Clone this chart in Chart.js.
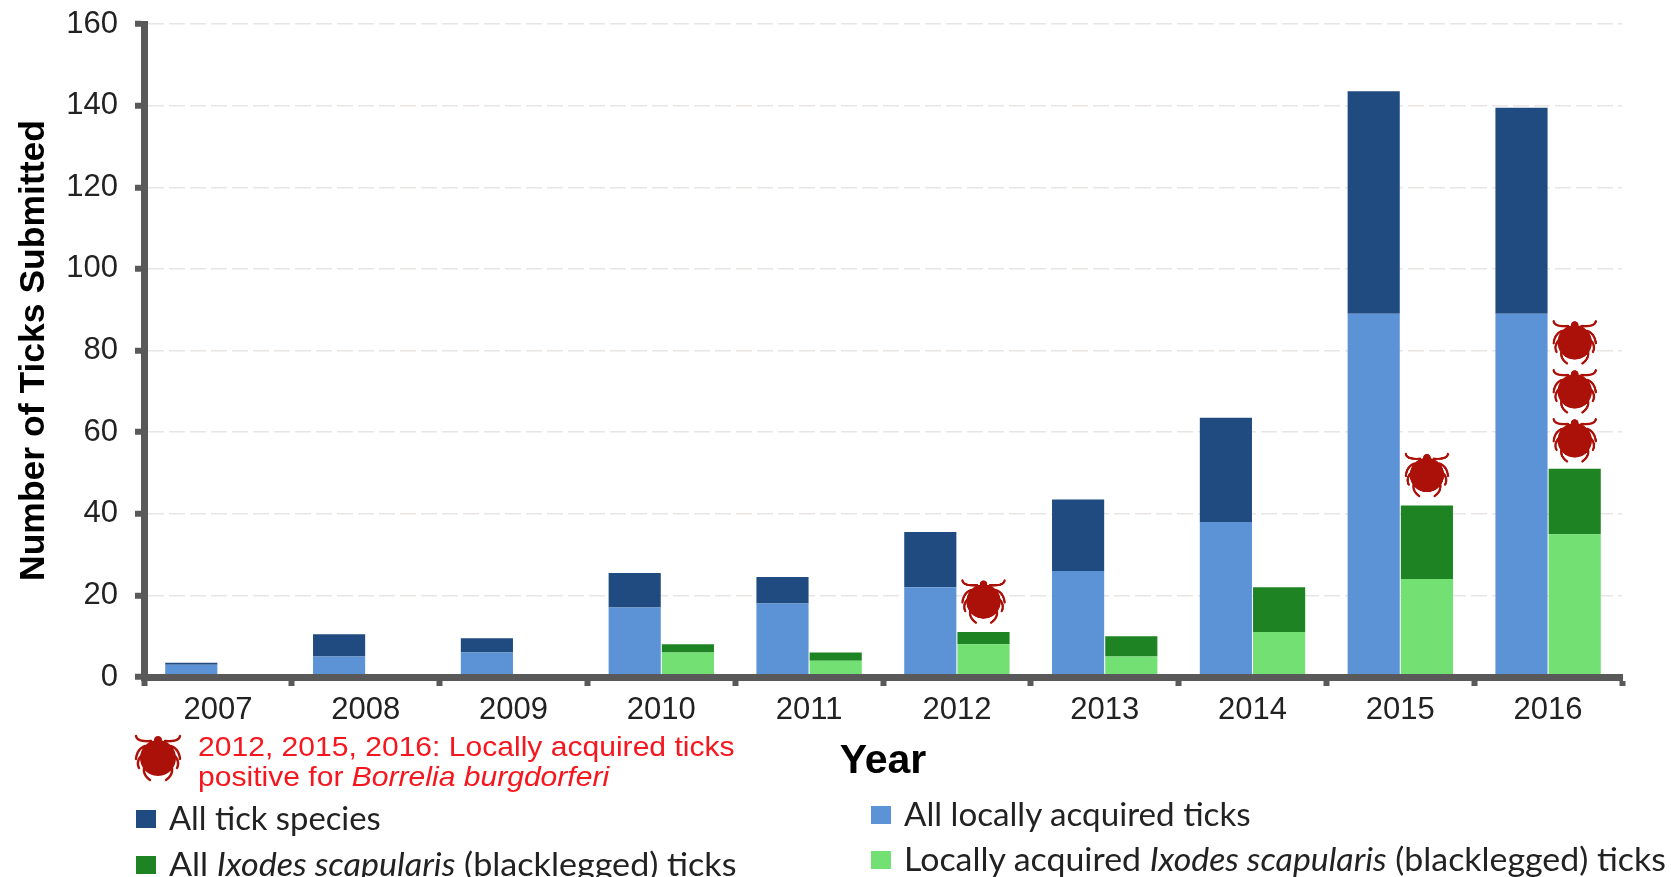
<!DOCTYPE html>
<html>
<head>
<meta charset="utf-8">
<title>Ticks submitted</title>
<script src="https://cdn.jsdelivr.net/npm/chart.js@4"></script>
<style>
  body { margin: 0; background: #fff; overflow: hidden; }
  #wrap { position: relative; width: 1671px; height: 877px; overflow: hidden; }
  .note { position: absolute; left: 198px; color: #f5161e; font: 28.5px "Liberation Sans", Arial, sans-serif; white-space: nowrap; line-height: 30px; transform: scaleX(1.055); transform-origin: left center; }
  .key { position: absolute; color: #222; font: 32px Lato, sans-serif; white-space: nowrap; line-height: 34px; transform-origin: left center; }
  .swatch { position: absolute; width: 20px; height: 18px; }
  #legendIcon { position: absolute; left: 134px; top: 734px; width: 48px; height: 48px; }
</style>
</head>
<body>
<div id="wrap">
  <canvas id="chart" width="1671" height="877"></canvas>
  <canvas id="legendIcon" width="96" height="96"></canvas>
</div>
<script>
const years = ['2007', '2008', '2009', '2010', '2011', '2012', '2013', '2014', '2015', '2016'];
// stacked pieces, so dark blue = all species minus local ones
const localAcquired = [3, 5, 6, 17, 18, 22, 26, 38, 89, 89];
const otherSpecies = [0.5, 5.5, 3.5, 8.5, 6.5, 13.5, 17.5, 25.5, 54.5, 50.5];
const localIxodes = [0, 0, 0, 6, 4, 8, 5, 11, 24, 35];
const otherIxodes = [0, 0, 0, 2, 2, 3, 5, 11, 18, 16];
// heights of the tick icons, year index -> values on the y axis
const positiveYears = [5, 8, 9, 9, 9];
const positiveLevels = [18.5, 49.5, 58, 70, 82];

const DARK_BLUE = '#204b80';
const LIGHT_BLUE = '#5b93d6';
const DARK_GREEN = '#1e8423';
const LIGHT_GREEN = '#72e072';
const AXIS = '#595959';

function drawTickIcon(canvas) {
  const c = canvas.getContext('2d');
  const s = canvas.width / 48;
  c.save();
  c.scale(s, s);
  c.strokeStyle = c.fillStyle = '#ab1108';
  c.lineCap = 'round';
  c.lineWidth = 2.4;
  // front legs
  c.beginPath();
  c.moveTo(2, 2); c.quadraticCurveTo(3, 8, 17, 7);
  c.moveTo(46, 2); c.quadraticCurveTo(45, 8, 31, 7);
  // side legs
  c.moveTo(11, 12); c.quadraticCurveTo(3, 15, 2, 25);
  c.moveTo(37, 12); c.quadraticCurveTo(45, 15, 46, 25);
  c.moveTo(7, 22); c.quadraticCurveTo(2, 28, 5, 34);
  c.moveTo(41, 22); c.quadraticCurveTo(46, 28, 43, 34);
  // back legs
  c.moveTo(10, 34); c.quadraticCurveTo(9, 41, 16, 46);
  c.moveTo(38, 34); c.quadraticCurveTo(39, 41, 32, 46);
  c.stroke();
  // head and body
  c.beginPath();
  c.arc(24, 6, 4, 0, Math.PI * 2);
  c.fill();
  c.beginPath();
  c.ellipse(24, 24, 18, 18, 0, 0, Math.PI * 2);
  c.fill();
  c.restore();
}

const tickIcon = document.createElement('canvas');
tickIcon.width = tickIcon.height = 96;
drawTickIcon(tickIcon);
drawTickIcon(document.getElementById('legendIcon'));

// legend text in the picture mixes italics, so it is plain html
const notes = [
  { top: 731, html: '2012, 2015, 2016: Locally acquired ticks' },
  { top: 761, html: 'positive for <i>Borrelia burgdorferi</i>' }
];
const keys = [
  { x: 136, y: 810, stretch: 1.024, color: DARK_BLUE, html: 'All tick species' },
  { x: 136, y: 856, stretch: 1.066, color: DARK_GREEN, html: 'All <i>Ixodes scapularis</i> (blacklegged) ticks' },
  { x: 871, y: 806, stretch: 1.037, color: LIGHT_BLUE, html: 'All locally acquired ticks' },
  { x: 871, y: 851, stretch: 1.059, color: LIGHT_GREEN, html: 'Locally acquired <i>Ixodes scapularis</i> (blacklegged) ticks' }
];
const wrap = document.getElementById('wrap');
notes.forEach(n => {
  const el = document.createElement('div');
  el.className = 'note';
  el.style.top = n.top + 'px';
  el.innerHTML = n.html;
  wrap.appendChild(el);
});
keys.forEach(k => {
  const box = document.createElement('div');
  box.className = 'swatch';
  box.style.left = k.x + 'px';
  box.style.top = k.y + 'px';
  box.style.background = k.color;
  wrap.appendChild(box);
  const el = document.createElement('div');
  el.className = 'key';
  el.style.left = (k.x + 33) + 'px';
  el.style.top = (k.y - 9) + 'px';
  el.style.transform = 'scaleX(' + k.stretch + ')';
  el.innerHTML = k.html;
  wrap.appendChild(el);
});

const tickIcons = {
  id: 'tickIcons',
  afterDatasetsDraw(chart) {
    const bars = chart.getDatasetMeta(2).data;
    const yScale = chart.scales.y;
    positiveYears.forEach((yearIndex, i) => {
      const x = bars[yearIndex].x;
      const y = yScale.getPixelForValue(positiveLevels[i]);
      chart.ctx.drawImage(tickIcon, x - 23, y - 23, 46, 46);
    });
  }
};

const tickFont = { family: '"Liberation Sans", Arial, sans-serif', size: 31 };

new Chart(document.getElementById('chart'), {
  type: 'bar',
  data: {
    labels: years,
    datasets: [
      { label: 'All locally acquired ticks', data: localAcquired, backgroundColor: LIGHT_BLUE, stack: 'all' },
      { label: 'All tick species', data: otherSpecies, backgroundColor: DARK_BLUE, stack: 'all' },
      { label: 'Locally acquired Ixodes scapularis (blacklegged) ticks', data: localIxodes, backgroundColor: LIGHT_GREEN, stack: 'ixodes' },
      { label: 'All Ixodes scapularis (blacklegged) ticks', data: otherIxodes, backgroundColor: DARK_GREEN, stack: 'ixodes' }
    ]
  },
  options: {
    responsive: false,
    animation: false,
    categoryPercentage: 0.72,
    barPercentage: 0.98,
    layout: { padding: { top: 24, right: 49, left: 0, bottom: 0 } },
    plugins: { legend: { display: false }, tooltip: { enabled: false } },
    scales: {
      x: {
        stacked: true,
        afterFit(scale) { scale.height = 200; },
        grid: { drawOnChartArea: false, tickColor: AXIS, tickWidth: 6, tickLength: 9 },
        border: { color: AXIS, width: 7, z: 1 },
        ticks: { color: '#222', font: tickFont, padding: 6, maxRotation: 0 },
        title: {
          display: true,
          text: 'Year',
          color: '#000',
          font: { family: '"Liberation Sans", Arial, sans-serif', size: 41, weight: 'bold' },
          padding: { top: 0, bottom: 91 }
        }
      },
      y: {
        stacked: true,
        min: 0,
        max: 160,
        // tick padding otherwise gets added above the top label
        afterFit(scale) { scale.width = 144; scale.paddingTop = 0; scale.paddingBottom = 0; },
        grid: { color: '#e8e5e2', lineWidth: 1.5, tickColor: AXIS, tickWidth: 6, tickLength: 9 },
        border: { color: AXIS, width: 7, z: 1, dash: [16, 5] },
        ticks: { stepSize: 20, color: '#222', font: tickFont, padding: 17 },
        title: {
          display: true,
          text: 'Number of Ticks Submitted',
          color: '#000',
          font: { family: '"Liberation Sans", Arial, sans-serif', size: 35.5, weight: 'bold' },
          padding: { top: 13, bottom: 0 }
        }
      }
    }
  },
  plugins: [tickIcons]
});
</script>
</body>
</html>
